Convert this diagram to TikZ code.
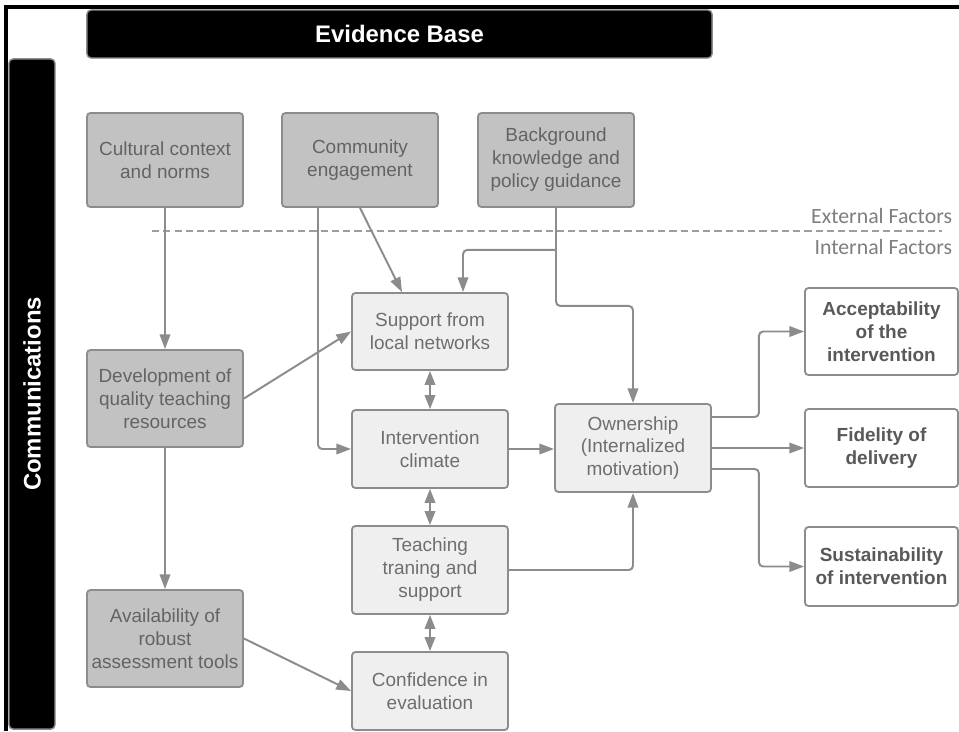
\documentclass[tikz,border=0pt]{standalone}
\usepackage{fontspec}
\setmainfont{Liberation Sans}
\newfontfamily\calibfont{Carlito}
\usepackage{tikz}
\usetikzlibrary{calc,arrows.meta}
\definecolor{boxline}{HTML}{8C8C8C}
\definecolor{darkfill}{HTML}{C2C2C2}
\definecolor{lightfill}{HTML}{EFEFEF}
\definecolor{boxtext}{HTML}{6E6E6E}
\definecolor{outtext}{HTML}{595959}

\begin{document}
\begin{tikzpicture}[x=0.025cm,y=-0.025cm,
    factor/.style={draw=boxline,line width=1.3pt,rounded corners=2.5pt,align=center,
        minimum width=3.9cm,text=boxtext,font=\fontsize{13.5}{16.3}\selectfont},
    extbox/.style={factor,fill=darkfill,text=boxtext!90!black},
    intbox/.style={factor,fill=lightfill},
    outbox/.style={factor,fill=white,minimum width=3.825cm,text=outtext,
        font=\fontsize{13.5}{16.3}\selectfont\bfseries},
    bar/.style={fill=black,draw=boxline,line width=1pt,rounded corners=3pt,text=white,
        font=\fontsize{17}{20}\selectfont\bfseries},
    arr/.style={draw=boxline,line width=1.4pt,rounded corners=3pt,
        -{Triangle[length=10.5pt,width=7.5pt]}},
    dblarr/.style={arr,{Triangle[length=10pt,width=7.5pt]}-{Triangle[length=10pt,width=7.5pt]}}]
    \useasboundingbox (0,0) rectangle (959,731);
    \draw[line width=2.2pt] (6,731) -- (6,7) -- (959,7);

    \node[bar,minimum width=15.625cm,minimum height=1.2cm] (evid) at (399.5,34) {Evidence Base};
    \node[bar,rotate=90,minimum width=16.75cm,minimum height=1.15cm] (comms) at (32,394) {Communications};

    \node[extbox,minimum height=2.35cm] (cult) at (165,160) {Cultural context\\and norms};
    \node[extbox,minimum height=2.35cm] (comm) at (360,160) {Community\\engagement};
    \node[extbox,minimum height=2.35cm] (back) at (556,160) {Background\\knowledge and\\policy guidance};
    \node[extbox,minimum height=2.425cm] (devel) at (165,398.5) {Development of\\quality teaching\\resources};
    \node[extbox,minimum height=2.425cm] (avail) at (165,638.5) {Availability of\\robust\\assessment tools};

    \node[intbox,minimum height=1.925cm] (supp) at (430,331.5) {Support from\\local networks};
    \node[intbox,minimum height=1.95cm] (clim) at (430,449) {Intervention\\climate};
    \node[intbox,minimum height=2.2cm] (teach) at (430,570) {Teaching\\traning and\\support};
    \node[intbox,minimum height=1.95cm] (conf) at (430,691) {Confidence in\\evaluation};
    \node[intbox,minimum height=2.2cm] (own) at (633,448) {Ownership\\(Internalized\\motivation)};

    \node[outbox,minimum height=2.175cm] (acc) at (881.5,331.5) {Acceptability\\of the\\intervention};
    \node[outbox,minimum height=1.95cm] (fid) at (881.5,448) {Fidelity of\\delivery};
    \node[outbox,minimum height=1.975cm] (sust) at (881.5,566.5) {Sustainability\\of intervention};

    \coordinate (sepL) at (152,231);
    \coordinate (sepR) at (942,231);
    \draw[boxline!85,line width=1pt,dash pattern=on 5pt off 3pt] (sepL) -- (sepR);
    \node[anchor=east,text=boxline!90!black,font=\calibfont\fontsize{15.5}{18}\selectfont] (extlab) at (957,216) {External Factors};
    \node[anchor=east,text=boxline!90!black,font=\calibfont\fontsize{15.5}{18}\selectfont] (intlab) at (957,247) {Internal Factors};

    \draw[arr] (cult) -- (devel);
    \draw[arr] (devel) -- (avail);
    \draw[arr] ([xshift=-1.05cm]comm.south) |- (clim.west);
    \draw[arr] (comm.south) -- ([xshift=-0.7cm]supp.north);
    \path (back.south) ++(0,42) coordinate (split);
    \draw[arr] (split) -| ([xshift=0.825cm]supp.north);
    \draw[arr] (back.south) -- ++(0,98) -| (own.north);
    \draw[arr] (devel.east) -- (supp.west);
    \draw[arr] (avail.east) -- (conf.west);
    \draw[dblarr] (supp) -- (clim);
    \draw[dblarr] (clim) -- (teach);
    \draw[dblarr] (teach) -- (conf);
    \draw[arr] (clim.east) -- (clim.east -| own.west);
    \draw[arr] (teach.east) -| (own.south);
    \draw[arr] ([yshift=0.775cm]own.east) -- ++(47,0) |- (acc.west);
    \draw[arr] (own.east) -- (fid.west);
    \draw[arr] ([yshift=-0.525cm]own.east) -- ++(47,0) |- (sust.west);
\end{tikzpicture}
\end{document}
